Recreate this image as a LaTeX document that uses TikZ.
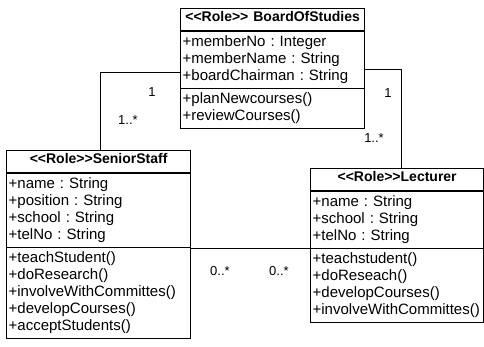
\documentclass[tikz,border=0pt]{standalone}
\usepackage{fontspec}
\setmainfont{Liberation Sans}
\usepackage{tikz}
\usetikzlibrary{shapes.multipart}
\frenchspacing
\newcommand\roletitle[1]{\hspace*{\fill}{\fontsize{14}{17}\selectfont\textbf{\rule[-6pt]{0pt}{14pt}{<}{<}Role{>}{>}#1}}\hspace*{\fill}\null}

\begin{document}
\begin{tikzpicture}[
  x=1pt,y=-1pt,
  font=\fontsize{15}{17}\selectfont,
  umlclass/.style={draw,line width=1.3pt,rectangle split,rectangle split parts=3,
    text width=#1,inner xsep=2pt,inner ysep=2.5pt,anchor=north west,align=left},
  mult/.style={font=\fontsize{13}{15}\selectfont,inner sep=0pt},
  assoc/.style={line width=0.9pt},
]
\useasboundingbox (0,0) rectangle (484,347);
\node[umlclass=180pt] (board) at (180,8)
  {\roletitle{ BoardOfStudies}
   \nodepart{second}\strut+memberNo : Integer\\\strut+memberName : String\\\strut+boardChairman : String
   \nodepart{third}\strut+planNewcourses()\\\strut+reviewCourses()};
\node[umlclass=180pt] (senior) at (6,150)
  {\roletitle{SeniorStaff}
   \nodepart{second}\strut+name : String\\\strut+position : String\\\strut+school : String\\\strut+telNo : String
   \nodepart{third}\strut+teachStudent()\\\strut+doResearch()\\\strut+involveWithCommittes()\\\strut+developCourses()\\\strut+acceptStudents()};
\node[umlclass=169pt] (lecturer) at (310,168)
  {\roletitle{Lecturer}
   \nodepart{second}\strut+name : String\\\strut+school : String\\\strut+telNo : String
   \nodepart{third}\strut+teachstudent()\\\strut+doReseach()\\\strut+developCourses()\\\strut+involveWithCommittes()};
% associations
\coordinate (lbend) at (100,72);
\coordinate (rbend) at (401,69);
\coordinate (mid) at (250,248);
\draw[assoc] (lbend -| board.west) -- (lbend) -- (lbend |- senior.north);
\draw[assoc] (rbend -| board.east) -- (rbend) -- (rbend |- lecturer.north);
\draw[assoc] (mid -| senior.east) -- (mid -| lecturer.west);
% multiplicities
\node[mult] (m1) at (152,92) {1};
\node[mult] (m2) at (128,120) {1..*};
\node[mult] (m3) at (388,93) {1};
\node[mult] (m4) at (374,138) {1..*};
\node[mult] (m5) at (220,271) {0..*};
\node[mult] (m6) at (279,271) {0..*};
\end{tikzpicture}
\end{document}
